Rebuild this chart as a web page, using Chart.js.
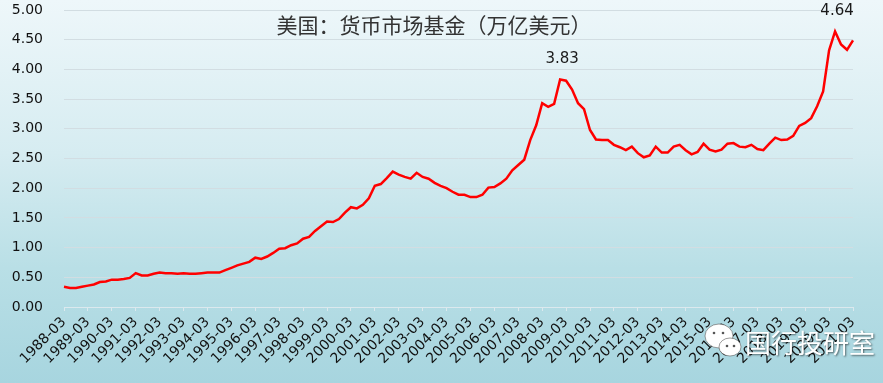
<!DOCTYPE html>
<html>
<head>
<meta charset="utf-8">
<script src="https://cdn.jsdelivr.net/npm/chart.js@4/dist/chart.umd.min.js"></script>
<style>
html,body{margin:0;padding:0;}
body{width:883px;height:383px;overflow:hidden;background:linear-gradient(to bottom,#eef7fa 0%,#d6ecf1 40%,#b9dfe6 70%,#a7d5df 100%);}
#wrap{position:relative;width:883px;height:383px;}
</style>
</head>
<body>
<div id="wrap"><canvas id="c" width="883" height="383"></canvas></div>
<script>
// Categories (quarter ends)
const categories = [
 '1988-03','1988-06','1988-09','1988-12','1989-03','1989-06','1989-09','1989-12',
 '1990-03','1990-06','1990-09','1990-12','1991-03','1991-06','1991-09','1991-12',
 '1992-03','1992-06','1992-09','1992-12','1993-03','1993-06','1993-09','1993-12',
 '1994-03','1994-06','1994-09','1994-12','1995-03','1995-06','1995-09','1995-12',
 '1996-03','1996-06','1996-09','1996-12','1997-03','1997-06','1997-09','1997-12',
 '1998-03','1998-06','1998-09','1998-12','1999-03','1999-06','1999-09','1999-12',
 '2000-03','2000-06','2000-09','2000-12','2001-03','2001-06','2001-09','2001-12',
 '2002-03','2002-06','2002-09','2002-12','2003-03','2003-06','2003-09','2003-12',
 '2004-03','2004-06','2004-09','2004-12','2005-03','2005-06','2005-09','2005-12',
 '2006-03','2006-06','2006-09','2006-12','2007-03','2007-06','2007-09','2007-12',
 '2008-03','2008-06','2008-09','2008-12','2009-03','2009-06','2009-09','2009-12',
 '2010-03','2010-06','2010-09','2010-12','2011-03','2011-06','2011-09','2011-12',
 '2012-03','2012-06','2012-09','2012-12','2013-03','2013-06','2013-09','2013-12',
 '2014-03','2014-06','2014-09','2014-12','2015-03','2015-06','2015-09','2015-12',
 '2016-03','2016-06','2016-09','2016-12','2017-03','2017-06','2017-09','2017-12',
 '2018-03','2018-06','2018-09','2018-12','2019-03','2019-06','2019-09','2019-12',
 '2020-03','2020-06','2020-09','2020-12','2021-03'
];

// Money market fund assets, trillion USD
const moneyMarketFunds = [
 0.34,0.32,0.32,0.34, 0.36,0.38,0.42,0.43,
 0.46,0.46,0.47,0.49, 0.57,0.53,0.53,0.56,
 0.58,0.57,0.57,0.56, 0.57,0.56,0.56,0.57,
 0.58,0.58,0.58,0.62, 0.66,0.70,0.73,0.76,
 0.83,0.81,0.85,0.91, 0.98,0.99,1.04,1.07,
 1.15,1.18,1.28,1.36, 1.44,1.43,1.48,1.59,
 1.68,1.66,1.72,1.83, 2.04,2.07,2.17,2.28,
 2.23,2.19,2.16,2.26, 2.19,2.16,2.09,2.04,
 2.00,1.94,1.89,1.89, 1.85,1.85,1.89,2.01,
 2.02,2.08,2.16,2.30, 2.39,2.48,2.81,3.06,
 3.43,3.37,3.42,3.83, 3.81,3.66,3.43,3.33,
 2.98,2.82,2.81,2.81, 2.73,2.69,2.64,2.70,
 2.59,2.52,2.55,2.70, 2.60,2.60,2.70,2.73,
 2.64,2.57,2.61,2.75, 2.65,2.62,2.65,2.75,
 2.76,2.70,2.69,2.73, 2.66,2.64,2.75,2.85,
 2.81,2.82,2.88,3.05, 3.10,3.18,3.38,3.63,
 4.32,4.64,4.42,4.33, 4.49
];

// Y tick values
const yTicks = [0,0.5,1,1.5,2,2.5,3,3.5,4,4.5,5];
// Annotated peaks (category labels)
const peakCategories = ['2008-12','2020-06'];
const chartTitle = '美国：货币市场基金（万亿美元）';
const watermarkText = '国行投研室';

const titlePlugin = {
  id:'titlePlugin',
  afterDraw(chart){
    const ctx = chart.ctx;
    ctx.save();
    ctx.font = '21px "Noto Sans CJK SC"';
    ctx.fillStyle = '#333333';
    ctx.textAlign = 'center';
    ctx.textBaseline = 'middle';
    ctx.fillText(chartTitle, 434, 25);
    ctx.restore();
  }
};

const peakPlugin = {
  id:'peakPlugin',
  afterDatasetsDraw(chart){
    const ctx = chart.ctx;
    const meta = chart.getDatasetMeta(0);
    ctx.save();
    ctx.font = '15px "DejaVu Sans"';
    ctx.fillStyle = '#1a1a1a';
    ctx.textAlign = 'center';
    ctx.textBaseline = 'middle';
    peakCategories.forEach(c => {
      const i = categories.indexOf(c);
      const p = meta.data[i];
      ctx.fillText(moneyMarketFunds[i].toFixed(2), p.x + 2, p.y - 20);
    });
    ctx.restore();
  }
};

const watermarkPlugin = {
  id:'watermarkPlugin',
  afterDraw(chart){
    const ctx = chart.ctx;
    ctx.save();
    ctx.fillStyle = '#ffffff';
    ctx.strokeStyle = 'rgba(90,90,90,0.6)';
    ctx.lineWidth = 1;
    ctx.beginPath(); ctx.ellipse(719,336,14,12,0,0,Math.PI*2); ctx.fill(); ctx.stroke();
    ctx.beginPath(); ctx.ellipse(730,347,11,9,0,0,Math.PI*2); ctx.fill(); ctx.stroke();
    ctx.fillStyle = '#555';
    [[714,333],[723,333],[727,346],[734,346]].forEach(p=>{ctx.beginPath();ctx.arc(p[0],p[1],1.3,0,Math.PI*2);ctx.fill();});
    ctx.font = '26px "Noto Sans CJK SC"';
    ctx.textBaseline = 'middle';
    ctx.textAlign = 'left';
    ctx.shadowColor = 'rgba(0,0,0,0.55)';
    ctx.shadowBlur = 2;
    ctx.shadowOffsetX = 1; ctx.shadowOffsetY = 1;
    ctx.fillStyle = '#ffffff';
    ctx.fillText(watermarkText, 745, 343);
    ctx.restore();
  }
};

new Chart(document.getElementById('c'), {
  type:'line',
  data:{
    labels: categories,
    datasets:[{
      data: moneyMarketFunds,
      borderColor:'#ff0000',
      borderWidth:2.5,
      pointRadius:0,
      tension:0,
      fill:false
    }]
  },
  options:{
    responsive:false,
    animation:false,
    devicePixelRatio:1,
    layout:{padding:{top:10,right:30,left:0,bottom:0}},
    plugins:{legend:{display:false},tooltip:{enabled:false},title:{display:false}},
    scales:{
      x:{
        type:'category',
        offset:false,
        afterFit(s){ s.height = 76; },
        grid:{display:true,drawOnChartArea:false,drawTicks:true,tickLength:4,
          color:(c)=> (c.index % 4 === 0) ? '#dce9ee' : 'rgba(0,0,0,0)'},
        border:{display:true,color:'#dce9ee',width:1},
        ticks:{autoSkip:false,minRotation:45,maxRotation:45,padding:3,color:'#111',
          font:{family:'"DejaVu Sans"',size:14},
          callback(v,i){ return i % 4 === 0 ? categories[i] : ''; }}
      },
      y:{
        min:0,max:5,
        afterFit(s){ s.width = 64; s.paddingTop = 0; s.paddingBottom = 0; },
        afterBuildTicks(s){ s.ticks = yTicks.map(v=>({value:v})); },
        grid:{color:'#d2dde2',drawTicks:false,lineWidth:1},
        border:{display:false},
        ticks:{padding:21,color:'#111',font:{family:'"DejaVu Sans"',size:14},
          callback(v){ return Number(v).toFixed(2); }}
      }
    }
  },
  plugins:[titlePlugin,peakPlugin,watermarkPlugin]
});
</script>
</body>
</html>
